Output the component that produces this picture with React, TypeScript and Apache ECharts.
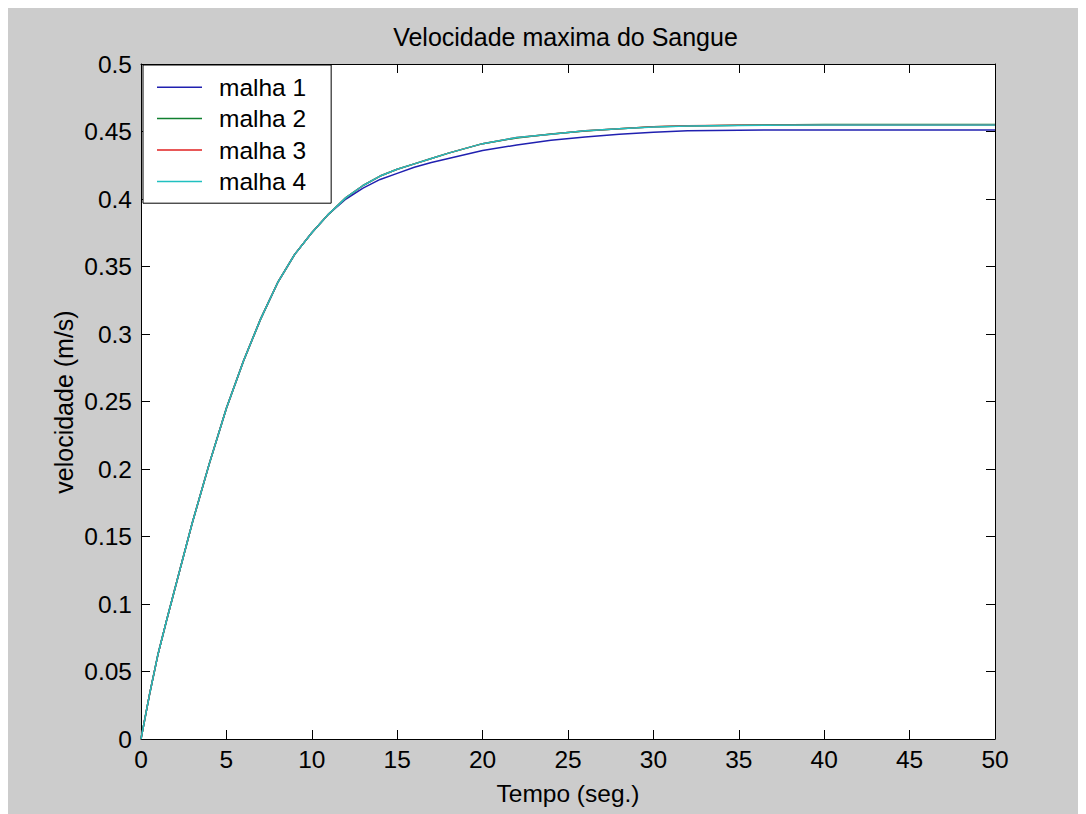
import { useEffect, useRef } from "react";
import * as echarts from "echarts";

// Tempo (seg.)
const TIME = [0, 0.5, 1, 1.5, 2, 3, 4, 5, 6, 7, 8, 9, 10, 11, 12, 13, 14, 15, 16, 17, 18, 20, 22, 24, 26, 28, 30, 32, 35, 40, 45, 50];

// velocidade (m/s)
const MALHA_1 = [0, 0.033, 0.063, 0.088, 0.112, 0.16, 0.204, 0.245, 0.28, 0.311, 0.338, 0.359, 0.375, 0.389, 0.4, 0.408, 0.4145, 0.419, 0.4235, 0.427, 0.43, 0.436, 0.44, 0.4435, 0.446, 0.448, 0.4495, 0.4505, 0.451, 0.4511, 0.4511, 0.4511];
const MALHA_2 = [0, 0.033, 0.063, 0.088, 0.112, 0.16, 0.204, 0.245, 0.28, 0.311, 0.338, 0.359, 0.375, 0.389, 0.401, 0.41, 0.417, 0.422, 0.426, 0.43, 0.434, 0.441, 0.4452, 0.4482, 0.4503, 0.452, 0.4535, 0.4541, 0.4547, 0.4551, 0.4551, 0.4551];
const MALHA_3 = [0, 0.033, 0.063, 0.088, 0.112, 0.16, 0.204, 0.245, 0.28, 0.311, 0.338, 0.359, 0.375, 0.389, 0.401, 0.41, 0.417, 0.422, 0.426, 0.43, 0.434, 0.441, 0.4455, 0.448, 0.4505, 0.452, 0.4536, 0.4542, 0.4546, 0.455, 0.455, 0.455];
const MALHA_4 = [0, 0.033, 0.063, 0.088, 0.112, 0.16, 0.204, 0.245, 0.28, 0.311, 0.338, 0.359, 0.375, 0.389, 0.401, 0.41, 0.417, 0.422, 0.426, 0.43, 0.434, 0.441, 0.4455, 0.448, 0.4505, 0.452, 0.4533, 0.454, 0.4545, 0.4548, 0.4549, 0.4549];

const SERIES_NAMES = ["malha 1", "malha 2", "malha 3", "malha 4"];
const SERIES_VALUES = [MALHA_1, MALHA_2, MALHA_3, MALHA_4];
const SERIES_COLORS = ["#2020b0", "#108030", "#e02020", "#20c0c0"];

const X_MIN = 0;
const X_MAX = 50;
const X_STEP = 5;
const Y_MIN = 0;
const Y_MAX = 0.5;
const Y_STEP = 0.05;

const TITLE = "Velocidade maxima do Sangue";
const X_TITLE = "Tempo (seg.)";
const Y_TITLE = "velocidade (m/s)";

const FONT = "'Liberation Sans', Arial, sans-serif";

export default function App() {
  const ref = useRef<HTMLDivElement>(null);

  useEffect(() => {
    if (!ref.current) return;
    const chart = echarts.init(ref.current, null, { renderer: "svg" });

    const lineStyle = { color: "#000", width: 1 };
    const baseAxis = {
      type: "value",
      axisLine: { show: true, onZero: false, lineStyle },
      axisTick: { show: true, inside: true, length: 9, lineStyle },
      splitLine: { show: false },
    };

    chart.setOption({
      animation: false,
      backgroundColor: "#cccccc",
      grid: {
        left: 133,
        top: 56,
        width: 854,
        height: 675,
        show: true,
        backgroundColor: "#ffffff",
        borderWidth: 0,
      },
      xAxis: [
        {
          ...baseAxis,
          position: "bottom",
          min: X_MIN,
          max: X_MAX,
          interval: X_STEP,
          axisLabel: { show: true, fontSize: 24.5, color: "#000", fontFamily: FONT, margin: 8 },
        },
        {
          ...baseAxis,
          position: "top",
          min: X_MIN,
          max: X_MAX,
          interval: X_STEP,
          axisLabel: { show: false },
        },
      ],
      yAxis: [
        {
          ...baseAxis,
          position: "left",
          min: Y_MIN,
          max: Y_MAX,
          interval: Y_STEP,
          axisLabel: { show: true, fontSize: 24.5, color: "#000", fontFamily: FONT, margin: 9 },
        },
        {
          ...baseAxis,
          position: "right",
          min: Y_MIN,
          max: Y_MAX,
          interval: Y_STEP,
          axisLabel: { show: false },
        },
      ],
      legend: {
        data: SERIES_NAMES,
        orient: "vertical",
        left: 135,
        top: 57,
        icon: "rect",
        itemWidth: 45,
        itemHeight: 1.5,
        itemGap: 6.4,
        padding: [9.7, 25, 9.3, 14],
        backgroundColor: "#ffffff",
        borderColor: "#000",
        borderWidth: 1,
        selectedMode: false,
        textStyle: {
          fontSize: 24.5,
          color: "#000",
          fontFamily: FONT,
          lineHeight: 24,
          padding: [0, 0, 0, 12],
        },
      },
      graphic: [
        {
          type: "text",
          x: 557.5,
          y: 29,
          style: {
            text: TITLE,
            align: "center",
            verticalAlign: "middle",
            fontSize: 25,
            fontFamily: FONT,
            fill: "#000",
          },
        },
        {
          type: "text",
          x: 560,
          y: 785,
          style: {
            text: X_TITLE,
            align: "center",
            verticalAlign: "middle",
            fontSize: 24.5,
            fontFamily: FONT,
            fill: "#000",
          },
        },
        {
          type: "text",
          x: 55.5,
          y: 394,
          rotation: Math.PI / 2,
          style: {
            text: Y_TITLE,
            align: "center",
            verticalAlign: "middle",
            fontSize: 25,
            fontFamily: FONT,
            fill: "#000",
          },
        },
      ],
      series: SERIES_NAMES.map((name, i) => ({
        name,
        type: "line",
        xAxisIndex: 0,
        yAxisIndex: 0,
        symbol: "none",
        smooth: false,
        color: SERIES_COLORS[i],
        itemStyle: { color: SERIES_COLORS[i] },
        lineStyle: { color: SERIES_COLORS[i], width: 1.5 },
        data: TIME.map((t, j) => [t, SERIES_VALUES[i][j]]),
      })),
    });

    return () => chart.dispose();
  }, []);

  return <div ref={ref} style={{ width: 1078, height: 806 }} />;
}
